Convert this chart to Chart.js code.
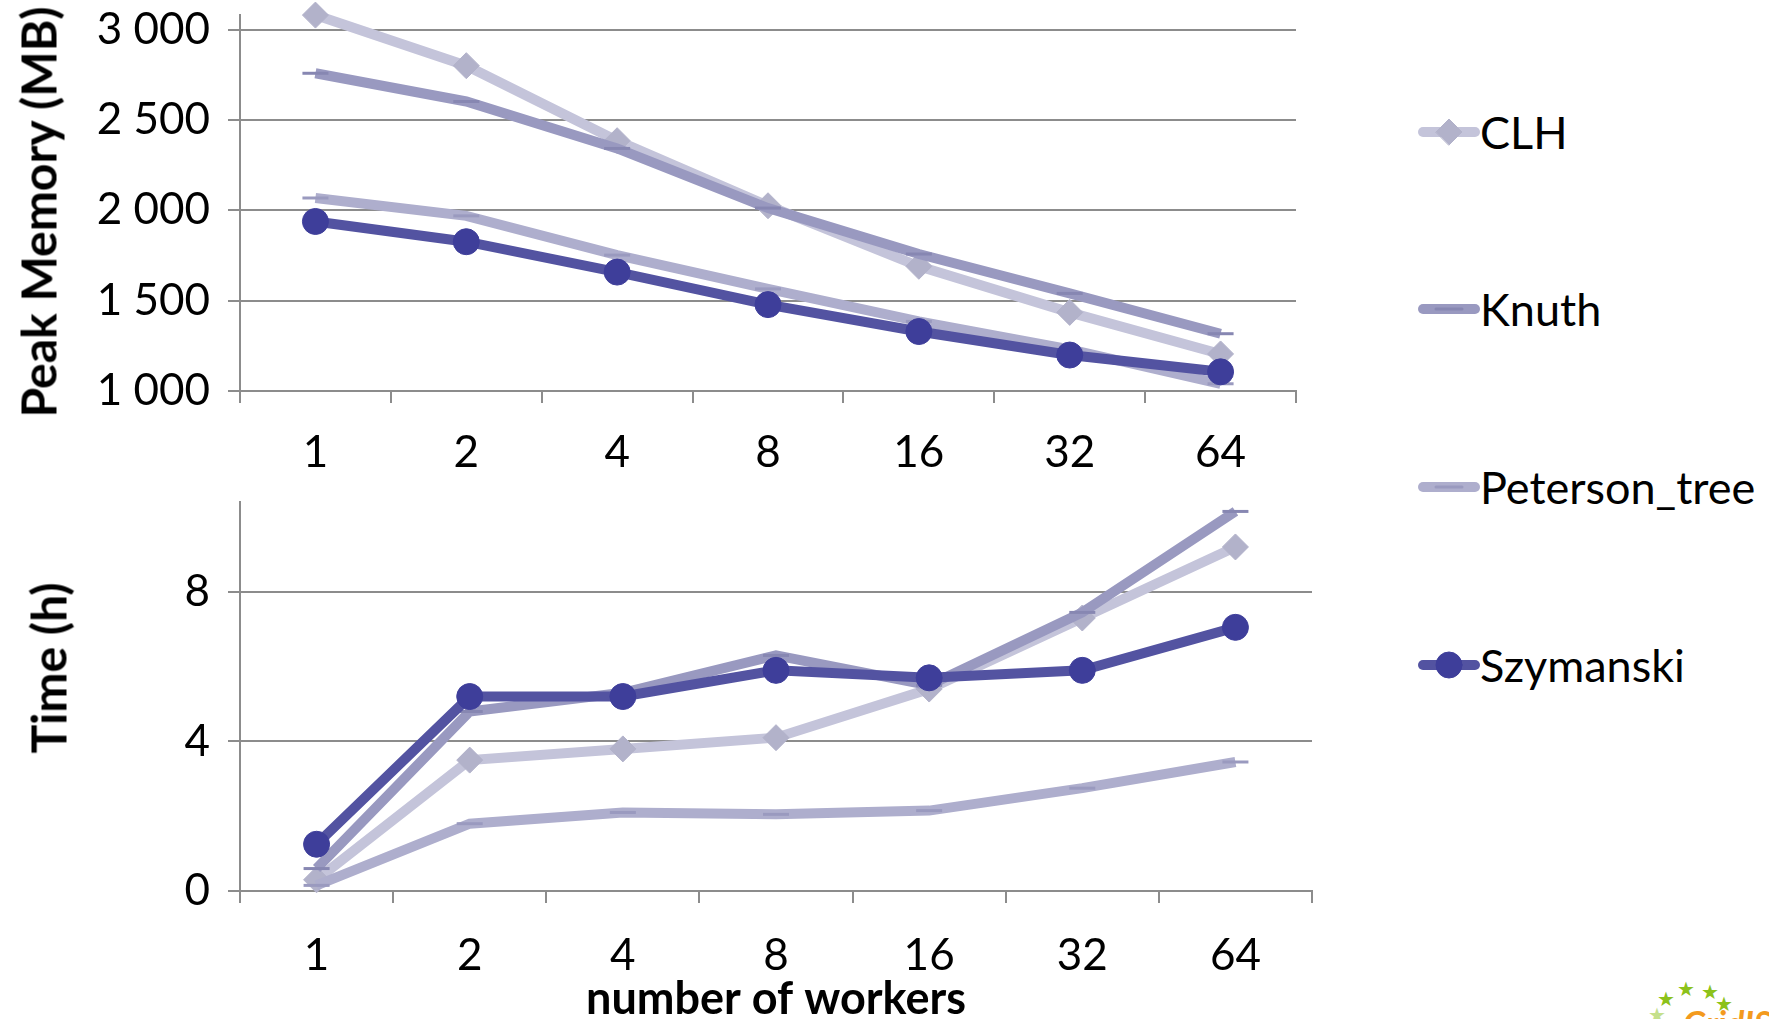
<!DOCTYPE html>
<html>
<head>
<meta charset="utf-8">
<script src="https://cdn.jsdelivr.net/npm/chart.js@4.4.0/dist/chart.umd.min.js"></script>
<style>
  body { margin: 0; background: #fff; width: 1769px; height: 1019px; overflow: hidden; position: relative; font-family: Lato, sans-serif; }
  #memWrap { position: absolute; left: 0; top: -17px; width: 1312px; height: 497px; }
  #timeWrap { position: absolute; left: 0; top: 470px; width: 1328px; height: 549px; }
  .ytitle { position: absolute; font: bold 48px Lato, sans-serif; color: #000; white-space: nowrap; transform: translate(-50%, -50%) rotate(-90deg); }
  .item { position: absolute; left: 1418px; height: 56px; display: flex; align-items: center; white-space: nowrap; font-size: 45px; color: #000; }
  .item canvas { width: 62px; height: 40px; }
  #logo { position: absolute; left: 1640px; top: 975px; width: 129px; height: 44px; overflow: hidden; }
  #logo .star { position: absolute; color: #8cc21a; font-size: 20px; line-height: 20px; }
  #logo .word { position: absolute; left: 43px; top: 28px; color: #f39a1e; font: italic bold 34px Lato, sans-serif; line-height: 40px; }
</style>
</head>
<body>
<div id="memWrap"><canvas id="memChart"></canvas></div>
<div id="timeWrap"><canvas id="timeChart"></canvas></div>
<div class="ytitle" style="left:38px; top:212px;">Peak Memory (MB)</div>
<div class="ytitle" style="left:48px; top:668px;">Time (h)</div>
<div id="legend"></div>
<div id="logo">
  <span class="star" style="left:17px; top:13px;">★</span>
  <span class="star" style="left:37px; top:3px;">★</span>
  <span class="star" style="left:61px; top:6px;">★</span>
  <span class="star" style="left:75px; top:18px;">★</span>
  <span class="star" style="left:8px; top:29px; opacity:0.5;">★</span>
  <span class="word">GridIS</span>
</div>
<script>
// données
const workers = ['1', '2', '4', '8', '16', '32', '64'];
const seriesNames = ['CLH', 'Knuth', 'Peterson_tree', 'Szymanski'];

const memCLH = [3080, 2800, 2385, 2025, 1690, 1435, 1205];
const memKnuth = [2758, 2602, 2342, 2012, 1758, 1540, 1317];
const memPeterson = [2068, 1969, 1752, 1565, 1385, 1230, 1040];
const memSzymanski = [1938, 1826, 1658, 1478, 1329, 1199, 1106];

const timeCLH = [0.3, 3.5, 3.8, 4.1, 5.4, 7.3, 9.2];
const timeKnuth = [0.6, 4.8, 5.3, 6.3, 5.5, 7.45, 10.15];
const timePeterson = [0.15, 1.8, 2.1, 2.05, 2.15, 2.75, 3.45];
const timeSzymanski = [1.25, 5.2, 5.2, 5.9, 5.7, 5.9, 7.05];

const memTicks = [1000, 1500, 2000, 2500, 3000];
const timeTicks = [0, 4, 8];

// styles
const lineColors = ['#c4c4da', '#9999c0', '#aeaecd', '#5353a1'];
const markerFill = ['#b2b2ca', '#8787b2', '#9a9abf', '#3e3e9a'];
const markerStyle = ['rectRot', 'line', 'line', 'circle'];
const markerBorder = [1, 3, 3, 1];
const gridColor = '#8c8c8c';
const xTickFont = { family: 'Lato', size: 44 };
const yTickFont = { family: 'Lato', size: 44, lineHeight: 0.64 };
const titleFont = { family: 'Lato', size: 45, weight: 'bold', lineHeight: 0.88 };

const fmtThousands = v => String(v).replace(/\B(?=(\d{3})+(?!\d))/g, ' ');

function makeDatasets(values) {
    return seriesNames.map((name, i) => ({
        label: name,
        data: values[i],
        borderColor: lineColors[i],
        backgroundColor: markerFill[i],
        borderWidth: 10,
        tension: 0,
        pointStyle: markerStyle[i],
        pointRadius: 13,
        pointBackgroundColor: markerFill[i],
        pointBorderColor: markerFill[i],
        pointBorderWidth: markerBorder[i],
        order: 4 - i,   // Szymanski au premier plan
        clip: false
    }));
}

function makeChart(id, cfg) {
    return new Chart(document.getElementById(id), {
        type: 'line',
        data: { labels: workers, datasets: makeDatasets(cfg.values) },
        options: {
            responsive: true,
            maintainAspectRatio: false,
            animation: false,
            layout: { padding: { top: cfg.padTop, right: 12, left: 0, bottom: 0 } },
            plugins: { legend: { display: false }, tooltip: { enabled: false } },
            scales: {
                x: {
                    type: 'category',
                    offset: true,
                    grid: { offset: true, drawOnChartArea: false, drawTicks: true, tickLength: 12, color: gridColor, lineWidth: 2 },
                    border: { color: gridColor, width: 2 },
                    ticks: { font: xTickFont, color: '#000', padding: cfg.xPad, maxRotation: 0, autoSkip: false },
                    title: cfg.xTitle ? { display: true, text: cfg.xTitle, font: titleFont, color: '#000', padding: 0 } : { display: false },
                    afterFit: s => { s.height = cfg.xHeight; }
                },
                y: {
                    min: cfg.min,
                    max: cfg.max,
                    afterBuildTicks: s => { s.ticks = cfg.ticks.map(v => ({ value: v })); },
                    grid: { color: gridColor, lineWidth: 2, tickLength: 12, drawTicks: true },
                    border: { display: true, color: gridColor, width: 2 },
                    ticks: { font: yTickFont, color: '#000', padding: 18, callback: v => fmtThousands(v) },
                    afterFit: s => { s.width = 240; }
                }
            }
        }
    });
}

makeChart('memChart', {
    values: [memCLH, memKnuth, memPeterson, memSzymanski],
    min: 1000, max: 3080, ticks: memTicks,
    padTop: 0, xHeight: 89, xPad: 23
});

makeChart('timeChart', {
    values: [timeCLH, timeKnuth, timePeterson, timeSzymanski],
    min: 0, max: 10.4, ticks: timeTicks,
    padTop: 18, xHeight: 128, xPad: 26, xTitle: 'number of workers'
});

// légende commune à droite
const legendY = [132, 309, 487, 665];
const legend = document.getElementById('legend');
seriesNames.forEach((name, i) => {
    const item = document.createElement('div');
    item.className = 'item';
    item.style.top = (legendY[i] - 28) + 'px';
    const c = document.createElement('canvas');
    c.width = 62; c.height = 40;
    const ctx = c.getContext('2d');
    ctx.strokeStyle = lineColors[i];
    ctx.lineWidth = 10;
    ctx.lineCap = 'round';
    ctx.beginPath(); ctx.moveTo(5, 20); ctx.lineTo(57, 20); ctx.stroke();
    ctx.fillStyle = markerFill[i];
    ctx.strokeStyle = markerFill[i];
    ctx.lineWidth = markerBorder[i];
    Chart.helpers.drawPoint(ctx, { pointStyle: markerStyle[i], radius: 13, rotation: 0, borderWidth: markerBorder[i] }, 31, 20);
    const span = document.createElement('span');
    span.textContent = name;
    item.appendChild(c);
    item.appendChild(span);
    legend.appendChild(item);
});
</script>
</body>
</html>
